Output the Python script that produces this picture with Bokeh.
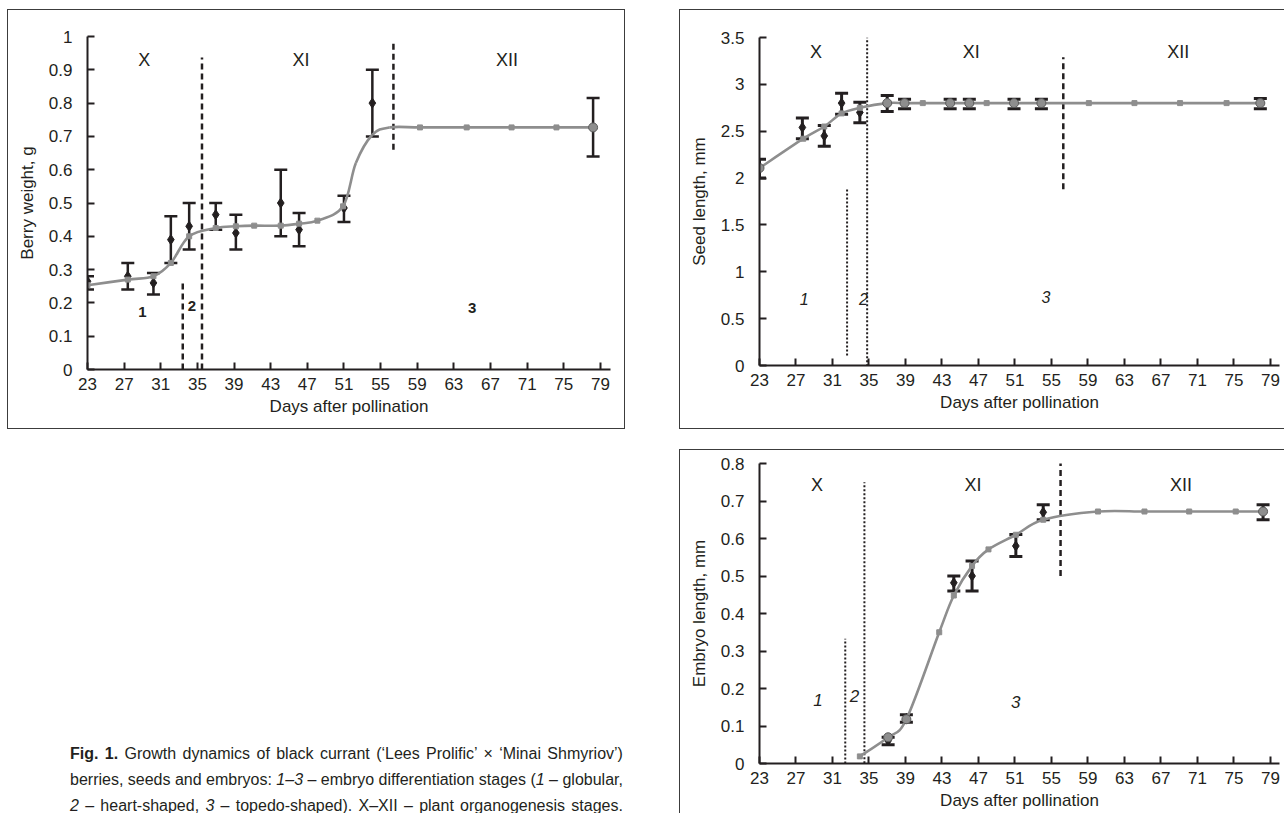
from bokeh.plotting import figure
from bokeh.layouts import row, column
from bokeh.models import (FixedTicker, Whisker, ColumnDataSource, Div, Spacer,
                          Label, TeeHead, Range1d)
from bokeh.embed import file_html
from bokeh.resources import INLINE

# ---------------- data ----------------
x_ticks = [23, 27, 31, 35, 39, 43, 47, 51, 55, 59, 63, 67, 71, 75, 79]
x_tick_labels = ["23", "27", "31", "35", "39", "43", "47", "51", "55", "59", "63", "67", "71", "75", "79"]

berry_y_ticks = [0, 0.1, 0.2, 0.3, 0.4, 0.5, 0.6, 0.7, 0.8, 0.9, 1.0]
berry_y_labels = ["0", "0.1", "0.2", "0.3", "0.4", "0.5", "0.6", "0.7", "0.8", "0.9", "1"]
seed_y_ticks = [0, 0.5, 1.0, 1.5, 2.0, 2.5, 3.0, 3.5]
seed_y_labels = ["0", "0.5", "1", "1.5", "2", "2.5", "3", "3.5"]
embryo_y_ticks = [0, 0.1, 0.2, 0.3, 0.4, 0.5, 0.6, 0.7, 0.8]
embryo_y_labels = ["0", "0.1", "0.2", "0.3", "0.4", "0.5", "0.6", "0.7", "0.8"]

season_names = ["X", "XI", "XII"]
stage_names = ["1", "2", "3"]

# Berry weight, g
berry_days = [23, 27.4, 30.2, 32.1, 34.1, 37.0, 39.2, 44.1, 46.1, 51.0, 54.1, 78.2]
berry_mean = [0.265, 0.28, 0.26, 0.39, 0.43, 0.465, 0.41, 0.50, 0.42, 0.485, 0.80, 0.727]
berry_low = [0.24, 0.24, 0.225, 0.32, 0.36, 0.42, 0.36, 0.40, 0.37, 0.443, 0.70, 0.64]
berry_high = [0.28, 0.32, 0.29, 0.46, 0.50, 0.50, 0.465, 0.60, 0.47, 0.522, 0.90, 0.815]
berry_curve_days = [23, 27.4, 30.2, 32.1, 34.1, 37.0, 39.2, 41.2, 44.1, 46.1, 48.1, 50.9,
                    52.3, 54.1, 56.0, 59.3, 64.4, 69.3, 74.2, 78.2]
berry_curve_vals = [0.253, 0.27, 0.28, 0.32, 0.40, 0.425, 0.43, 0.432, 0.432, 0.438, 0.447, 0.49,
                    0.62, 0.705, 0.727, 0.727, 0.727, 0.727, 0.727, 0.727]
berry_mark_days = [23, 27.4, 30.2, 32.1, 34.1, 37.0, 39.2, 41.2, 44.1, 46.1, 48.1, 50.9,
                   59.3, 64.4, 69.3, 74.2]
berry_mark_vals = [0.253, 0.27, 0.28, 0.32, 0.40, 0.425, 0.43, 0.432, 0.432, 0.438, 0.447, 0.49,
                   0.727, 0.727, 0.727, 0.727]
berry_dot_days = [78.2]
berry_dot_vals = [0.727]
berry_stage_x = [33.4, 35.5]
berry_stage_top = [0.265, 0.937]
berry_stage_bottom = [0.0, 0.0]
berry_season_x = [56.4]
berry_season_top = [0.99]
berry_season_bottom = [0.66]

# Seed length, mm
seed_days = [23, 27.7, 30.1, 32.0, 34.0, 37.0, 38.9, 43.9, 46.0, 50.9, 53.9, 77.9]
seed_mean = [2.107, 2.54, 2.45, 2.80, 2.70, 2.80, 2.80, 2.80, 2.80, 2.80, 2.80, 2.80]
seed_low = [2.0, 2.42, 2.34, 2.68, 2.59, 2.71, 2.74, 2.74, 2.74, 2.74, 2.74, 2.74]
seed_high = [2.20, 2.64, 2.56, 2.905, 2.81, 2.88, 2.84, 2.84, 2.84, 2.84, 2.84, 2.85]
seed_curve_days = [23, 27.8, 30.1, 32.0, 34.0, 37.0, 38.9, 40.9, 43.9, 46.0, 47.9, 50.9,
                   53.9, 59.1, 64.1, 69.1, 74.2, 77.9]
seed_curve_vals = [2.107, 2.42, 2.55, 2.69, 2.75, 2.80, 2.80, 2.80, 2.80, 2.80, 2.80, 2.80,
                   2.80, 2.80, 2.80, 2.80, 2.80, 2.80]
seed_dot_days = [23, 37.0, 38.9, 43.9, 46.0, 50.9, 53.9, 77.9]
seed_dot_vals = [2.107, 2.80, 2.80, 2.80, 2.80, 2.80, 2.80, 2.80]
seed_stage_x = [32.6, 34.8]
seed_stage_top = [1.88, 3.5]
seed_stage_bottom = [0.107, -0.05]
seed_season_x = [56.3]
seed_season_top = [3.29]
seed_season_bottom = [1.88]

# Embryo length, mm
embryo_days = [37.1, 39.1, 44.3, 46.3, 51.1, 54.1, 78.2]
embryo_mean = [0.061, 0.12, 0.482, 0.50, 0.58, 0.67, 0.672]
embryo_low = [0.05, 0.11, 0.46, 0.46, 0.552, 0.65, 0.65]
embryo_high = [0.07, 0.13, 0.50, 0.54, 0.611, 0.69, 0.69]
embryo_curve_days = [34.0, 37.1, 39.1, 42.7, 44.3, 46.3, 48.1, 51.1, 54.1, 60.1, 65.2, 70.1, 75.2, 78.2]
embryo_curve_vals = [0.019, 0.07, 0.118, 0.35, 0.448, 0.527, 0.571, 0.61, 0.65, 0.672, 0.672,
                     0.672, 0.672, 0.672]
embryo_dot_days = [37.1, 39.1, 78.2]
embryo_dot_vals = [0.07, 0.118, 0.672]
embryo_stage_x = [32.4, 34.5]
embryo_stage_top = [0.333, 0.75]
embryo_stage_bottom = [0.0, -0.01]
embryo_season_x = [56.0]
embryo_season_top = [0.81]
embryo_season_bottom = [0.50]

# ---------------- styling ----------------
FONT = "'Liberation Sans', Arial, sans-serif"
INK = "#231f20"
GRAY = "#8e8e8e"
BORDER = {"border": "1.5px solid #3c3c3c", "box-sizing": "border-box"}


def bezier_source(xs, ys):
    n = len(xs)
    d = {k: [] for k in ("x0", "y0", "x1", "y1", "cx0", "cy0", "cx1", "cy1")}
    for i in range(n - 1):
        xp, yp = (xs[i - 1], ys[i - 1]) if i > 0 else (xs[i], ys[i])
        xn, yn = (xs[i + 2], ys[i + 2]) if i + 2 < n else (xs[i + 1], ys[i + 1])
        d["x0"].append(xs[i]); d["y0"].append(ys[i])
        d["x1"].append(xs[i + 1]); d["y1"].append(ys[i + 1])
        d["cx0"].append(xs[i] + (xs[i + 1] - xp) / 6.0)
        d["cy0"].append(ys[i] + (ys[i + 1] - yp) / 6.0)
        d["cx1"].append(xs[i + 1] - (xn - xs[i]) / 6.0)
        d["cy1"].append(ys[i + 1] - (yn - ys[i]) / 6.0)
    return ColumnDataSource(d)


def make_fig(width, height, borders, x_end, y_end, y_ticks, y_labels, y_title):
    left, right, top, bottom = borders
    p = figure(width=width, height=height,
               x_range=Range1d(23, x_end), y_range=Range1d(0, y_end),
               output_backend="svg", toolbar_location=None,
               min_border_left=left, min_border_right=right,
               min_border_top=top, min_border_bottom=bottom)
    p.grid.visible = False
    p.outline_line_color = None
    p.background_fill_color = "white"
    p.border_fill_color = "white"
    p.styles = BORDER
    xa = p.xaxis[0]
    ya = p.yaxis[0]
    for ax in (xa, ya):
        ax.axis_line_width = 2
        ax.axis_line_color = INK
        ax.major_tick_in = 7
        ax.major_tick_out = 0
        ax.major_tick_line_width = 2
        ax.major_tick_line_color = INK
        ax.minor_tick_line_color = None
        ax.major_label_text_font = FONT
        ax.major_label_text_font_size = "17px"
        ax.major_label_text_color = INK
        ax.axis_label_text_font = FONT
        ax.axis_label_text_font_size = "17px"
        ax.axis_label_text_font_style = "normal"
        ax.axis_label_text_color = INK
    xa.ticker = FixedTicker(ticks=x_ticks)
    xa.major_label_overrides = dict(zip(x_ticks, x_tick_labels))
    xa.major_label_standoff = 8
    xa.axis_label = "Days after pollination"
    xa.axis_label_standoff = 4
    ya.ticker = FixedTicker(ticks=y_ticks)
    ya.major_label_overrides = dict(zip(y_ticks, y_labels))
    ya.major_label_standoff = 15
    ya.axis_label = y_title
    ya.axis_label_standoff = 9
    return p


def add_errors(p, days, mean, lo, hi, cap, lw):
    src = ColumnDataSource(dict(x=days, m=mean, lo=lo, hi=hi))
    w = Whisker(source=src, base="x", lower="lo", upper="hi",
                line_width=lw, line_color=INK,
                upper_head=TeeHead(size=cap, line_width=lw, line_color=INK),
                lower_head=TeeHead(size=cap, line_width=lw, line_color=INK))
    p.add_layout(w)
    p.scatter("x", "m", source=src, marker="diamond", size=10, color=INK)


def add_curve(p, xs, ys, mark_x, mark_y, dot_x, dot_y):
    p.bezier(x0="x0", y0="y0", x1="x1", y1="y1", cx0="cx0", cy0="cy0",
             cx1="cx1", cy1="cy1", source=bezier_source(xs, ys),
             line_color=GRAY, line_width=2.6)
    p.scatter(mark_x, mark_y, marker="square", size=5, color=GRAY)
    p.scatter(dot_x, dot_y, marker="circle", size=9, fill_color=GRAY,
              line_color="#5a5a5a", line_width=1)


def add_vlines(p, xs, bottoms, tops, dash, lw):
    p.segment(x0=xs, y0=bottoms, x1=xs, y1=tops, line_color=INK,
              line_width=lw, line_dash=dash)


def add_text(p, x, y, text, size, style="normal"):
    p.add_layout(Label(x=x, y=y, text=text, text_align="center",
                       text_baseline="middle", text_font=FONT,
                       text_font_size=size, text_font_style=style,
                       text_color=INK))


# ---------------- chart 1: berry weight ----------------
p1 = make_fig(618, 420, (79, 16, 26, 61), 80.1, 1.0, berry_y_ticks, berry_y_labels,
              "Berry weight, g")
add_vlines(p1, berry_stage_x, berry_stage_bottom, berry_stage_top, "6 4", 2.5)
add_vlines(p1, berry_season_x, berry_season_bottom, berry_season_top, "6 4", 2.5)
add_errors(p1, berry_days, berry_mean, berry_low, berry_high, 13, 2.5)
add_curve(p1, berry_curve_days, berry_curve_vals, berry_mark_days, berry_mark_vals,
          berry_dot_days, berry_dot_vals)
for xx, name in zip([29.2, 46.3, 68.8], season_names):
    add_text(p1, xx, 0.93, name, "18px")
for xx, yy, name in zip([29.0, 34.4, 65.0], [0.173, 0.19, 0.185], stage_names):
    add_text(p1, xx, yy, name, "15px", "bold")

# ---------------- chart 2: seed length ----------------
p2 = make_fig(606, 420, (78, 7, 27, 65), 80.0, 3.5, seed_y_ticks, seed_y_labels,
              "Seed length, mm")
add_vlines(p2, seed_stage_x, seed_stage_bottom, seed_stage_top, "2 2", 2)
add_vlines(p2, seed_season_x, seed_season_bottom, seed_season_top, "6 4", 2.5)
add_errors(p2, seed_days, seed_mean, seed_low, seed_high, 13, 3)
add_curve(p2, seed_curve_days, seed_curve_vals, seed_curve_days, seed_curve_vals,
          seed_dot_days, seed_dot_vals)
for xx, name in zip([29.2, 46.2, 68.9], season_names):
    add_text(p2, xx, 3.34, name, "18px")
for xx, yy, name in zip([27.9, 34.4, 54.4], [0.71, 0.71, 0.73], stage_names):
    add_text(p2, xx, yy, name, "16px", "italic")

# ---------------- chart 3: embryo length ----------------
p3 = make_fig(606, 365, (79, 7, 13, 52), 80.0, 0.8, embryo_y_ticks, embryo_y_labels,
              "Embryo length, mm")
add_vlines(p3, embryo_stage_x, embryo_stage_bottom, embryo_stage_top, "2 2", 2)
add_vlines(p3, embryo_season_x, embryo_season_bottom, embryo_season_top, "6 4", 2.5)
add_errors(p3, embryo_days, embryo_mean, embryo_low, embryo_high, 13, 3)
add_curve(p3, embryo_curve_days, embryo_curve_vals, embryo_curve_days, embryo_curve_vals,
          embryo_dot_days, embryo_dot_vals)
for xx, name in zip([29.3, 46.4, 69.2], season_names):
    add_text(p3, xx, 0.742, name, "18px")
for xx, yy, name in zip([29.4, 33.4, 51.1], [0.17, 0.18, 0.165], stage_names):
    add_text(p3, xx, yy, name, "17px", "italic")

# ---------------- caption ----------------
caption_lines = [
    "<b>Fig. 1.</b> Growth dynamics of black currant (\u2018Lees Prolific\u2019 \u00d7 \u2018Minai Shmyriov\u2019)",
    "berries, seeds and embryos: <i>1\u20133</i> \u2013 embryo differentiation stages (<i>1</i> \u2013 globular,",
    "<i>2</i> \u2013 heart-shaped, <i>3</i> \u2013 topedo-shaped). X\u2013XII \u2013 plant organogenesis stages.",
]
caption_html = (
    f'<div style="font-family:{FONT};font-size:16px;line-height:26px;color:{INK};'
    f'padding:12px 6px 0 58px;">'
    + "".join(
        f'<div style="text-align:justify;text-align-last:justify;white-space:nowrap;">{ln}</div>'
        for ln in caption_lines)
    + "</div>"
)
cap = Div(text=caption_html, width=618, height=100)

col1 = column(p1, Spacer(width=618, height=295), cap)
col2 = column(p2, Spacer(width=606, height=20), p3)
layout = row(col1, Spacer(width=44, height=10), col2, height=804,
             margin=(9, 0, 0, 7), styles={"overflow": "hidden"})

open("out.html", "w").write(file_html(layout, INLINE))
